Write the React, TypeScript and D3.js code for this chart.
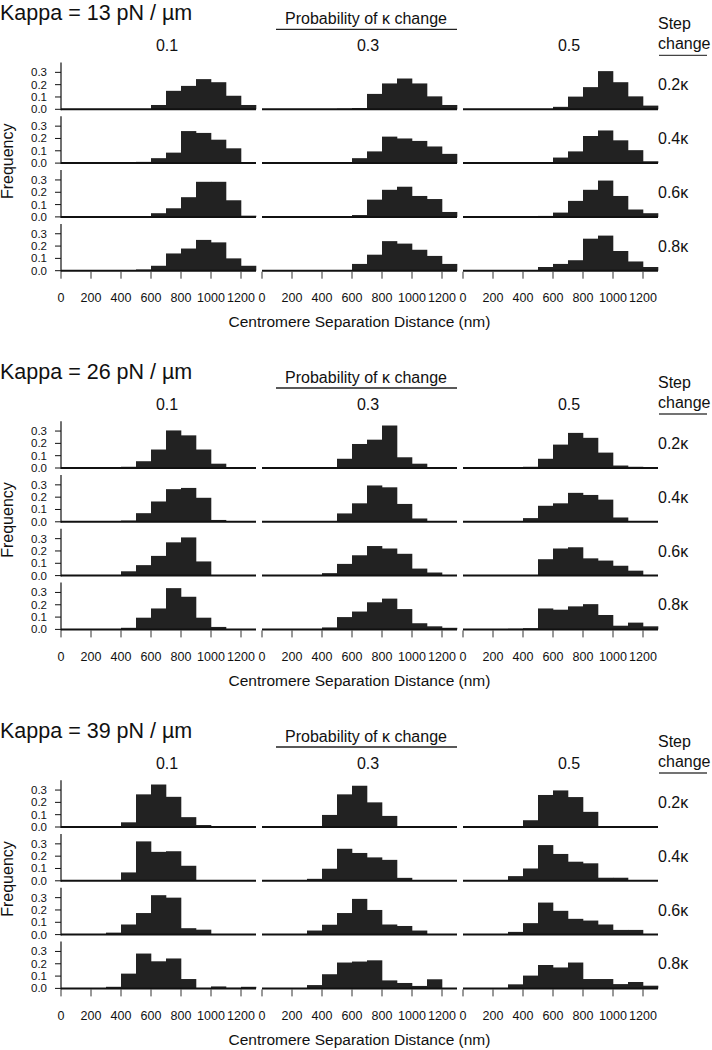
import * as React from 'react';
import * as d3 from 'd3';

// panel categories
const kappas = ['13', '26', '39'];
const probabilities = ['0.1', '0.3', '0.5'];
const stepChanges = ['0.2κ', '0.4κ', '0.6κ', '0.8κ'];
const binStarts = [0, 100, 200, 300, 400, 500, 600, 700, 800, 900, 1000, 1100, 1200];
const xTicks = [0, 200, 400, 600, 800, 1000, 1200];
const yTicks = [0, 0.1, 0.2, 0.3];

// frequencies per 100 nm bin, one row per step change (0.2, 0.4, 0.6, 0.8 kappa)
const k13p01 = [
  [0, 0, 0, 0, 0, 0, 0.035, 0.15, 0.19, 0.245, 0.22, 0.11, 0.035],
  [0, 0, 0, 0, 0.005, 0.01, 0.04, 0.085, 0.26, 0.245, 0.19, 0.12, 0],
  [0, 0, 0, 0, 0, 0, 0.03, 0.07, 0.16, 0.285, 0.285, 0.135, 0.01],
  [0, 0, 0, 0, 0, 0.01, 0.04, 0.14, 0.18, 0.25, 0.23, 0.1, 0.04],
];
const k13p03 = [
  [0, 0, 0, 0, 0, 0.005, 0.01, 0.125, 0.21, 0.25, 0.21, 0.105, 0.035],
  [0, 0, 0, 0, 0, 0, 0.04, 0.095, 0.215, 0.2, 0.18, 0.135, 0.075],
  [0, 0, 0, 0, 0, 0, 0.015, 0.14, 0.22, 0.245, 0.17, 0.145, 0.04],
  [0, 0, 0, 0, 0, 0, 0.055, 0.13, 0.24, 0.22, 0.17, 0.12, 0.055],
];
const k13p05 = [
  [0, 0, 0, 0, 0, 0, 0.02, 0.103, 0.18, 0.31, 0.22, 0.105, 0.03],
  [0, 0, 0, 0, 0, 0, 0.045, 0.095, 0.22, 0.265, 0.185, 0.105, 0.015],
  [0, 0, 0, 0, 0, 0.008, 0.035, 0.13, 0.22, 0.295, 0.17, 0.06, 0.03],
  [0, 0, 0, 0, 0, 0.03, 0.055, 0.085, 0.26, 0.285, 0.16, 0.075, 0.03],
];
const k26p01 = [
  [0, 0, 0, 0, 0.01, 0.055, 0.15, 0.305, 0.265, 0.15, 0.035, 0, 0],
  [0, 0, 0, 0, 0.01, 0.07, 0.165, 0.265, 0.275, 0.195, 0.015, 0, 0],
  [0, 0, 0, 0, 0.035, 0.085, 0.16, 0.27, 0.31, 0.115, 0, 0, 0],
  [0, 0, 0, 0, 0.013, 0.095, 0.17, 0.335, 0.265, 0.095, 0.02, 0, 0],
];
const k26p03 = [
  [0, 0, 0, 0, 0, 0.075, 0.195, 0.23, 0.345, 0.087, 0.035, 0, 0],
  [0, 0, 0, 0, 0, 0.068, 0.15, 0.295, 0.28, 0.145, 0.027, 0, 0],
  [0, 0, 0, 0, 0.02, 0.095, 0.165, 0.24, 0.22, 0.177, 0.057, 0.025, 0],
  [0, 0, 0, 0, 0.016, 0.1, 0.145, 0.22, 0.25, 0.165, 0.05, 0.025, 0.013],
];
const k26p05 = [
  [0, 0, 0, 0, 0.01, 0.075, 0.19, 0.285, 0.245, 0.125, 0.02, 0.01, 0],
  [0, 0, 0, 0, 0.03, 0.13, 0.15, 0.235, 0.218, 0.18, 0.035, 0, 0],
  [0, 0, 0, 0, 0, 0.133, 0.22, 0.23, 0.14, 0.122, 0.08, 0.04, 0],
  [0, 0, 0, 0.005, 0.01, 0.17, 0.16, 0.187, 0.205, 0.117, 0.03, 0.055, 0.025],
];
const k39p01 = [
  [0, 0, 0, 0, 0.038, 0.265, 0.345, 0.245, 0.08, 0.016, 0, 0, 0],
  [0, 0, 0, 0, 0.068, 0.32, 0.235, 0.24, 0.122, 0, 0, 0, 0],
  [0, 0, 0, 0.016, 0.082, 0.175, 0.32, 0.3, 0.052, 0.04, 0, 0, 0],
  [0, 0, 0, 0.013, 0.12, 0.283, 0.22, 0.243, 0.076, 0, 0.016, 0.004, 0.013],
];
const k39p03 = [
  [0, 0, 0, 0, 0.098, 0.265, 0.335, 0.2, 0.09, 0, 0, 0, 0],
  [0, 0, 0, 0.016, 0.098, 0.26, 0.226, 0.19, 0.17, 0.024, 0, 0, 0],
  [0, 0, 0, 0.033, 0.08, 0.175, 0.29, 0.2, 0.082, 0.07, 0.033, 0, 0],
  [0, 0, 0, 0.027, 0.115, 0.21, 0.218, 0.228, 0.065, 0.044, 0.02, 0.074, 0],
];
const k39p05 = [
  [0, 0, 0, 0, 0.055, 0.26, 0.297, 0.243, 0.123, 0, 0, 0, 0],
  [0, 0, 0, 0.038, 0.1, 0.29, 0.218, 0.155, 0.142, 0.025, 0.025, 0, 0],
  [0, 0, 0, 0.022, 0.093, 0.26, 0.193, 0.128, 0.114, 0.082, 0.038, 0.038, 0],
  [0, 0, 0, 0.033, 0.104, 0.19, 0.17, 0.21, 0.076, 0.076, 0.035, 0.052, 0.022],
];

const blocks = [
  [k13p01, k13p03, k13p05],
  [k26p01, k26p03, k26p05],
  [k39p01, k39p03, k39p05],
];

const width = 712;
const height = 1050;
const colX = [61, 262, 463];
const panelW = 195;
const blockY = [109.3, 468, 827];
const rowStep = 53.8;
const panelH = 46.8;
const font = '"Liberation Sans", Arial, Helvetica, sans-serif';

function Panel({ x0, base, values, showY, showX }: any) {
  const x = d3.scaleLinear().domain([0, 1300]).range([x0, x0 + panelW]);
  const y = d3.scaleLinear().domain([0, 0.38]).range([base, base - panelH]);
  return (
    <g>
      {values.map((v: number, i: number) =>
        v > 0 ? (
          <rect
            key={i}
            x={x(binStarts[i])}
            y={y(v)}
            width={x(binStarts[i] + 100) - x(binStarts[i]) + 0.3}
            height={y(0) - y(v)}
            fill="#222"
          />
        ) : null
      )}
      <line x1={x(0)} x2={x(1300)} y1={y(0)} y2={y(0)} stroke="#111" strokeWidth={2} />
      {showY && (
        <g>
          <line x1={x0} x2={x0} y1={y(0) + 1} y2={y(0.38)} stroke="#111" strokeWidth={1.2} />
          {yTicks.map((t) => (
            <g key={t}>
              <line x1={x0 - 6} x2={x0} y1={y(t)} y2={y(t)} stroke="#111" strokeWidth={1} />
              <text x={47} y={y(t) + 4} fontSize={11.5} textAnchor="end" fill="#111">
                {d3.format('.1f')(t)}
              </text>
            </g>
          ))}
        </g>
      )}
      {showX &&
        xTicks.map((t) => (
          <g key={t}>
            <line x1={x(t)} x2={x(t)} y1={base + 1} y2={base + 8} stroke="#333" strokeWidth={1} />
            <text x={x(t)} y={base + 31.5} fontSize={12.5} textAnchor="middle" fill="#111">
              {t}
            </text>
          </g>
        ))}
    </g>
  );
}

export default function App() {
  return (
    <svg
      width={width}
      height={height}
      style={{ position: 'absolute', left: 0, top: 0, background: '#fff' }}
      fontFamily={font}
    >
      <rect width={width} height={height} fill="#fff" />
      {blocks.map((cols, b) => {
        const B = blockY[b];
        return (
          <g key={b}>
            <text x={0} y={B - 89} fontSize={21.5} fill="#111">
              {`Kappa = ${kappas[b]} pN / µm`}
            </text>
            <text x={366} y={B - 85} fontSize={16} textAnchor="middle" fill="#111">
              Probability of κ change
            </text>
            <line x1={276} x2={457} y1={B - 80} y2={B - 80} stroke="#222" strokeWidth={1.3} />
            {probabilities.map((p, c) => (
              <text key={p} x={colX[c] + panelW / 2 + 8.5} y={B - 58.5} fontSize={16} textAnchor="middle" fill="#111">
                {p}
              </text>
            ))}
            <text x={658} y={B - 80} fontSize={16} fill="#111">Step</text>
            <text x={658} y={B - 60} fontSize={16} fill="#111">change</text>
            <line x1={659} x2={707} y1={B - 54} y2={B - 54} stroke="#444" strokeWidth={1.3} />
            {stepChanges.map((s, r) => (
              <text key={s} x={658} y={B + r * rowStep - 19} fontSize={16} fill="#111">
                {s}
              </text>
            ))}
            <text
              transform={`translate(13,${B + 52}) rotate(-90)`}
              fontSize={16}
              textAnchor="middle"
              fill="#111"
            >
              Frequency
            </text>
            {cols.map((rows, c) =>
              rows.map((vals, r) => (
                <Panel
                  key={`${c}-${r}`}
                  x0={colX[c]}
                  base={B + r * rowStep}
                  values={vals}
                  showY={c === 0}
                  showX={r === 3}
                />
              ))
            )}
            <text x={359.5} y={B + 218} fontSize={15.5} textAnchor="middle" fill="#111">
              Centromere Separation Distance (nm)
            </text>
          </g>
        );
      })}
    </svg>
  );
}
